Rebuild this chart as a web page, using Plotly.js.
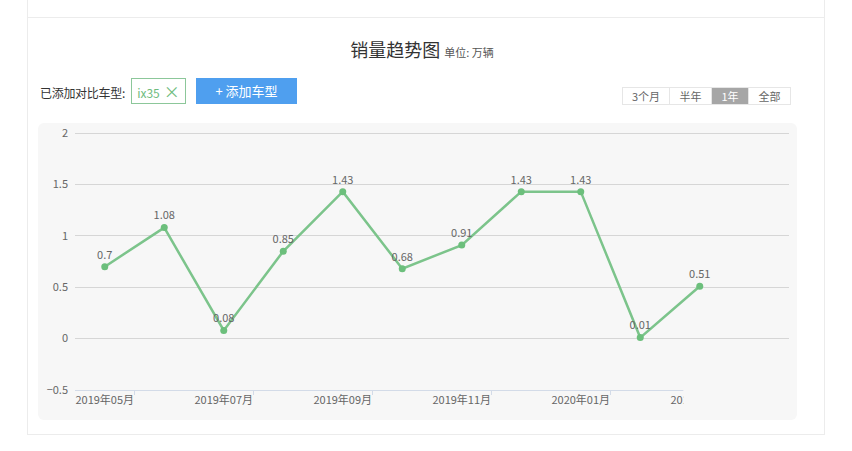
<!DOCTYPE html>
<html>
<head>
<meta charset="utf-8">
<script src="https://cdn.plot.ly/plotly-3.0.1.min.js"></script>
<style>
  body { margin: 0; background: #fff; font-family: "Noto Sans CJK SC", "Noto Sans", sans-serif; }
  .page { position: relative; width: 852px; height: 451px; overflow: hidden; }
  .topcard { position: absolute; left: 27px; top: -2px; width: 796px; height: 19px;
             border: 1px solid #ececec; border-top: none; }
  .card { position: absolute; left: 27px; top: 18px; width: 796px; height: 416px;
          border: 1px solid #ececec; border-top: none; }
  .title { position: absolute; left: -4px; top: 36px; width: 852px; text-align: center;
           color: #333; font-size: 18px; }
  .title small { font-size: 11px; color: #555; }
  .label { position: absolute; left: 40px; top: 84px; font-size: 12px; color: #333; letter-spacing: -0.3px; }
  .chip { position: absolute; left: 131px; top: 78px; width: 55px; height: 26px;
          border: 1px solid #8cc79a; box-sizing: border-box; color: #6fbc7e;
          font-size: 12px; line-height: 24px; text-align: center; }
  .chip b { font-weight: normal; font-size: 16px; margin-left: 4px; }
  .addbtn { position: absolute; left: 196px; top: 78px; width: 101px; height: 26px;
            background: #4f9fef; color: #fff; font-size: 13px; line-height: 26px; text-align: center; }
  .seg { position: absolute; left: 622px; top: 87px; height: 18px; display: flex;
         border: 1px solid #e6e6e6; box-sizing: border-box; }
  .seg span { font-size: 11px; color: #666; line-height: 16px; text-align: center;
              border-left: 1px solid #e6e6e6; }
  .seg span:first-child { border-left: none; }
  .seg span.on { background: #a6a6a6; color: #fff; }
  #plot { position: absolute; left: 38px; top: 123px; width: 759px; height: 297px;
          border-radius: 6px; overflow: hidden; }
</style>
</head>
<body>
<div class="page">
  <div class="topcard"></div>
  <div class="card"></div>
  <div class="title">销量趋势图 <small>单位: 万辆</small></div>
  <div class="label">已添加对比车型:</div>
  <div class="chip">ix35<b>×</b></div>
  <div class="addbtn">+ 添加车型</div>
  <div class="seg">
    <span style="width:46px">3个月</span>
    <span style="width:41px">半年</span>
    <span class="on" style="width:36px">1年</span>
    <span style="width:41px">全部</span>
  </div>
  <div id="plot"></div>
</div>
<script>
const months = ["2019年05月", "2019年06月", "2019年07月", "2019年08月", "2019年09月", "2019年10月",
                "2019年11月", "2019年12月", "2020年01月", "2020年02月", "2020年03月", "2020年04月"];
const sales = [0.7, 1.08, 0.08, 0.85, 1.43, 0.68, 0.91, 1.43, 1.43, 0.01, 0.51];
const labelIdx = [0, 2, 4, 6, 8, 10];

const xs = sales.map((v, i) => i);

const line = {
    type: "scatter",
    mode: "lines+markers+text",
    x: xs,
    y: sales,
    text: sales.map(String),
    textposition: "top center",
    textfont: {size: 11, color: "#666"},
    line: {color: "#7cc48b", width: 2.5},
    marker: {color: "#6cbf7c", size: 7},
    cliponaxis: false,
    hoverinfo: "none"
};

Plotly.newPlot("plot", [line], {
    width: 759,
    height: 297,
    margin: {l: 37, r: 8, t: 8, b: 30},
    paper_bgcolor: "#f7f7f7",
    plot_bgcolor: "#f7f7f7",
    font: {family: "Noto Sans CJK SC, Noto Sans, sans-serif", size: 11, color: "#666"},
    showlegend: false,
    xaxis: {
        range: [-0.5, months.length - 0.5],
        tickmode: "array",
        tickvals: labelIdx,
        ticktext: labelIdx.map(i => months[i]),
        ticks: "",
        showgrid: false,
        zeroline: false,
        showline: true,
        linecolor: "#d3dbe8",
        linewidth: 1,
        minor: {tick0: 0.5, dtick: 2, ticks: "outside", ticklen: 4, tickcolor: "#d3dbe8", showgrid: false},
        fixedrange: true
    },
    yaxis: {
        range: [-0.5, 2.02],
        dtick: 0.5,
        tick0: 0,
        showgrid: true,
        gridcolor: "#d6d6d6",
        gridwidth: 1,
        zeroline: false,
        ticks: "",
        ticklabelstandoff: 6,
        fixedrange: true
    },
    shapes: [{
        type: "rect", xref: "paper", yref: "paper",
        x0: 0.852, x1: 1.02, y0: -0.08, y1: 0.012,
        fillcolor: "#f7f7f7", line: {width: 0}, layer: "above"
    }]
}, {displayModeBar: false, staticPlot: true});
</script>
</body>
</html>
